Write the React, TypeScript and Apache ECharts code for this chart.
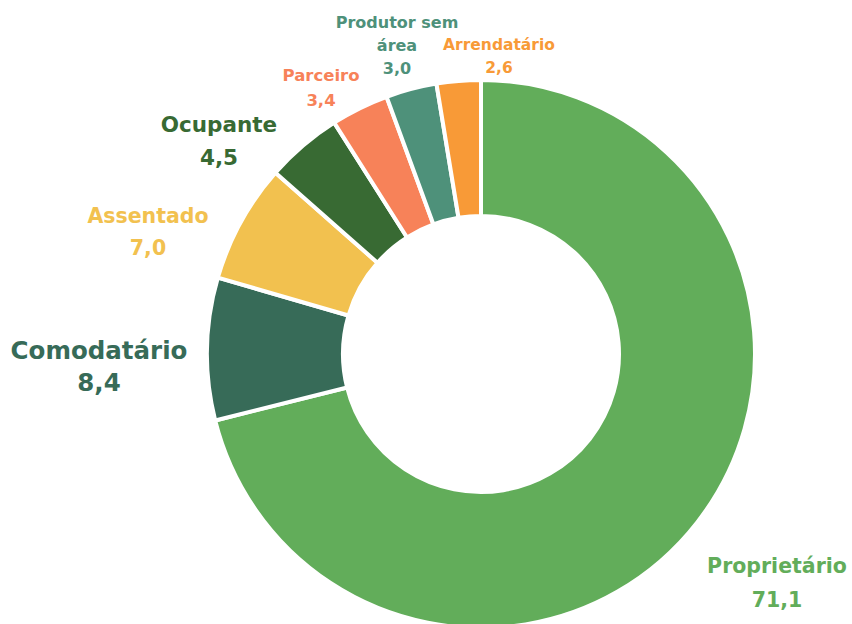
import React, { useEffect, useRef } from "react";
import * as echarts from "echarts";

const categories = [
  "Proprietário",
  "Comodatário",
  "Assentado",
  "Ocupante",
  "Parceiro",
  "Produtor sem área",
  "Arrendatário",
];
const values = [71.1, 8.4, 7.0, 4.5, 3.4, 3.0, 2.6];
const colors = ["#62ad5a", "#376b58", "#f2c14f", "#386a33", "#f78259", "#4e917a", "#f89a37"];
const labelPos = [
  [777, 583],
  [99, 366],
  [148, 232],
  [219, 141],
  [321, 88],
  [397, 45],
  [499, 56],
];
const labelSize = [20.5, 24.5, 20.5, 21.5, 16.5, 16, 15.5];
const labelLine = [34, 32, 32, 33, 25, 23, 23];

export default function App() {
  const ref = useRef<HTMLDivElement>(null);
  useEffect(() => {
    if (!ref.current) return;
    const chart = echarts.init(ref.current, null, { renderer: "svg" });
    chart.setOption({
      animation: false,
      backgroundColor: "#ffffff",
      series: [
        {
          type: "pie",
          center: [481, 354],
          radius: [138, 274],
          startAngle: 90,
          clockwise: true,
          itemStyle: { borderColor: "#ffffff", borderWidth: 4 },
          labelLine: { show: false },
          label: {
            show: true,
            overflow: "none",
            fontFamily: "DejaVu Sans",
            fontWeight: "bold",
            formatter: (p: any) => {
              const n = p.name === "Produtor sem área" ? "Produtor sem\nárea" : p.name;
              return n + "\n" + Number(p.value).toFixed(1).replace(".", ",");
            },
          },
          labelLayout: (params: any) => {
            const i = params.dataIndex;
            return {
              x: labelPos[i][0],
              y: labelPos[i][1],
              align: "center",
              verticalAlign: "middle",
            };
          },
          data: categories.map((c, i) => ({
            name: c,
            value: values[i],
            itemStyle: { color: colors[i] },
            label: {
              color: colors[i],
              fontSize: labelSize[i],
              lineHeight: labelLine[i],
              align: "center",
              overflow: "none",
            },
          })),
        },
      ],
    });
    return () => chart.dispose();
  }, []);
  return (
    <div
      ref={ref}
      style={{ position: "fixed", left: 0, top: 0, width: 852, height: 624 }}
    />
  );
}
